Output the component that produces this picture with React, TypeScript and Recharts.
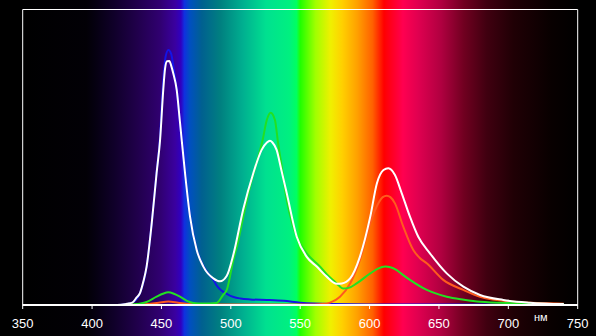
import React from 'react';
import { LineChart, Line, XAxis, YAxis, ReferenceArea } from 'recharts';

const xTicks = [350, 400, 450, 500, 550, 600, 650, 700, 750];
const unitLabel = 'нм';

// background spectrum colours by wavelength (nm)
const spectrumStops: [number, string][] = [
  [350, '#000000'], [396, '#020006'], [402, '#050010'], [416, '#10002a'], [432, '#20004a'],
  [449, '#300070'], [460, '#3a00a0'], [464, '#3000c0'], [466.5, '#1030e0'], [470.6, '#0050c0'],
  [479, '#006090'], [492.6, '#008080'], [509, '#00b090'], [525.4, '#00e090'], [542, '#00f080'],
  [547.4, '#00ff60'], [550.1, '#20ff00'], [561, '#a0ff00'], [572, '#f0f000'], [580.3, '#ffd000'],
  [591.2, '#ffa000'], [602.2, '#ff6000'], [610.4, '#ff0000'], [624, '#ff0050'], [635, '#e00050'],
  [651.5, '#b00040'], [668, '#700020'], [684.4, '#400010'], [703.6, '#200005'], [731, '#080000'],
  [750, '#000000'],
];

const whiteSpectrum: [number, number][] = [
  [350, 0], [400, 0], [418, 0], [425, 0.4], [429, 0.8], [432, 2.5], [434.5, 4], [437, 8], [439.3, 13],
  [443, 27.7], [446.5, 44.6], [449, 55.8], [451.3, 72.8], [452.6, 80], [454, 82.5], [455.7, 82.6],
  [457, 81], [458.5, 78.4], [461, 72.8], [463.4, 61.6], [467, 44.6], [470.6, 29.9], [475.4, 18.6],
  [480.2, 13], [487.4, 9], [492.2, 8], [497, 9.8], [501.8, 17], [509, 32.5], [516.2, 44.6], [522.2, 52.5],
  [526, 55], [528.2, 55.6], [530, 55], [533, 52.5], [536.5, 45.5], [540.3, 37.8], [547.5, 23.1],
  [554.7, 16.3], [561.9, 13], [569.1, 9.6], [576.3, 7.2], [580, 7.3], [586, 9], [593, 16.3], [600.5, 29.9],
  [605.3, 41.2], [610, 45.7], [613.5, 46.3], [618.3, 44], [623.2, 37.8], [629.1, 29.9], [635.1, 23.1],
  [643.5, 17.5], [655.6, 10.7], [667.6, 6.2], [679.6, 3.4], [696.4, 1.7], [715.6, 0.8], [740, 0.3],
];

const blueSpectrum: [number, number][] = [
  [420, 0], [429, 0.8], [434.5, 4], [439.3, 13], [443, 27.7], [446.5, 45], [449, 57], [451, 74],
  [453, 84], [455, 86.3], [457, 85], [459, 79.5], [461, 73], [463.4, 61.8], [467, 44.8], [470.6, 30],
  [475.4, 18.8], [480.2, 13.2], [484, 10.5], [487.4, 8.5], [490, 6.5], [493, 5], [497, 3.8], [502, 2.7],
  [507, 2.2], [514, 1.9], [526, 1.7], [538, 1.4], [550, 0.8], [560, 0.5], [574, 0.3], [600, 0.2], [740, 0.2],
];

const greenSpectrum: [number, number][] = [
  [425, 0], [432, 0.3], [439.3, 1], [446.5, 2.8], [451, 3.8], [455, 4.3], [459, 3.8], [463.4, 2.8],
  [468, 1.5], [473, 0.7], [480, 0.5], [489.8, 0.7], [494.6, 3.5], [497, 5], [501.8, 15.2], [505, 21],
  [509, 29.9], [513.8, 40], [519.8, 50.2], [523, 56], [525.9, 62.6], [528.7, 65.1], [531.8, 62.6],
  [534, 55], [536.7, 46.8], [540.3, 35.5], [544, 28], [547.5, 23.1], [554.7, 17.5], [564.3, 13],
  [570, 10], [574, 8.3], [578, 6.5], [581, 5.6], [585, 5.8], [590.7, 7.3], [600.5, 10.7], [606, 12.3],
  [611.3, 13], [615, 12.8], [619.6, 11.8], [624, 10.2], [629.1, 8.5], [641.2, 5.1], [655.6, 2.8],
  [668, 1.8], [679.6, 1.1], [703.6, 0.6], [740, 0.3],
];

const redSpectrum: [number, number][] = [
  [425, 0], [440, 0.3], [448, 0.8], [455, 1.2], [462, 0.8], [470, 0.3], [480, 0.2], [560, 0.2],
  [566, 0.3], [571.5, 0.8], [578.7, 2.8], [586, 7.3], [593, 15.2], [600.5, 27.7], [606.3, 34.4],
  [609.5, 36.5], [612.3, 37], [615, 36.5], [618.3, 34.4], [624.3, 26.5], [631.5, 18.6], [636, 16],
  [641.2, 14.1], [653.1, 8.5], [667.6, 5.1], [679.6, 2.8], [703.6, 1.1], [727.7, 0.6], [740, 0.4],
];

const toPoints = (arr: [number, number][]) => arr.map(([nm, v]) => ({ nm, v }));

const FONT = '"Liberation Sans", Arial, sans-serif';

export default function App() {
  return (
    <div style={{ position: 'fixed', left: 0, top: 0, width: 596, height: 336, background: '#000', overflow: 'hidden' }}>
      <LineChart width={596} height={336} margin={{ top: 9.5, right: 18.3, bottom: 0, left: 22.7 }}>
        <defs>
          <linearGradient id="spec" x1="0" y1="0" x2="1" y2="0">
            {spectrumStops.map(([nm, c], i) => (
              <stop key={i} offset={(nm - 350) / 400} stopColor={c} />
            ))}
          </linearGradient>
        </defs>
        <XAxis
          dataKey="nm"
          type="number"
          domain={[350, 750]}
          ticks={xTicks}
          allowDataOverflow
          height={31}
          tick={{ fill: '#fff', fontSize: 13, fontFamily: FONT }}
          tickSize={4}
          tickMargin={10}
          axisLine={{ stroke: '#fff', strokeWidth: 2 }}
          tickLine={{ stroke: '#fff' }}
        />
        <YAxis type="number" domain={[0, 100]} hide allowDataOverflow />
        <ReferenceArea x1={350} x2={750} y1={-12} y2={106} ifOverflow="visible" fill="url(#spec)" fillOpacity={1} stroke="none" />
        <ReferenceArea x1={350} x2={750} y1={0} y2={100} ifOverflow="visible" fill="none" fillOpacity={0} stroke="#fff" strokeWidth={1} />
        <Line data={toPoints(blueSpectrum)} dataKey="v" type="monotone" stroke="#1414e6" strokeWidth={2} dot={false} isAnimationActive={false} />
        <Line data={toPoints(redSpectrum)} dataKey="v" type="monotone" stroke="#ff5a1e" strokeWidth={2} dot={false} isAnimationActive={false} />
        <Line data={toPoints(greenSpectrum)} dataKey="v" type="monotone" stroke="#22e022" strokeWidth={2} dot={false} isAnimationActive={false} />
        <Line data={toPoints(whiteSpectrum)} dataKey="v" type="monotone" stroke="#ffffff" strokeWidth={2} dot={false} isAnimationActive={false} />
      </LineChart>
      <div style={{ position: 'absolute', left: 534, top: 311, fontSize: 11, fontFamily: FONT, color: '#fff', lineHeight: 'normal' }}>
        {unitLabel}
      </div>
    </div>
  );
}
